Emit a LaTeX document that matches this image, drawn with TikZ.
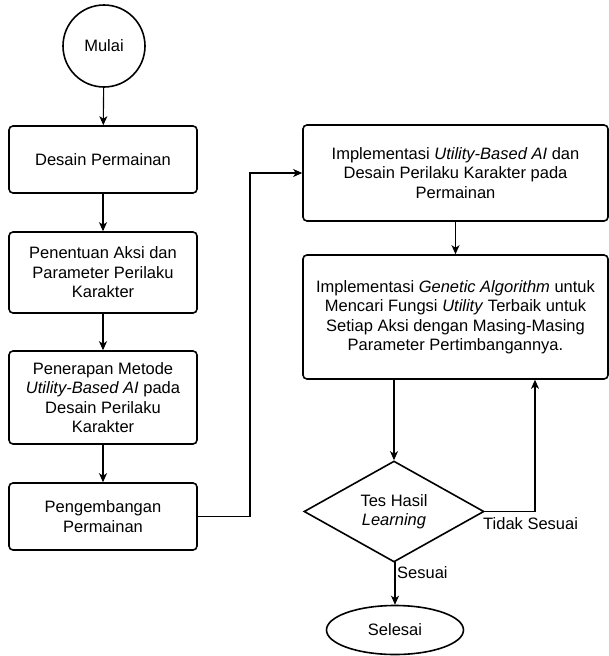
\documentclass[tikz,border=0pt]{standalone}
\usepackage{fontspec}
\setmainfont{Liberation Sans}
\usetikzlibrary{shapes.geometric,arrows.meta}
\begin{document}
\begin{tikzpicture}[x=1pt,y=-1pt,
  font=\fontsize{16.5}{19.5}\selectfont,
  box/.style={draw,line width=1.6pt,rounded corners=4pt,align=center,inner sep=2pt},
  lbox/.style={box,minimum width=188pt},
  rbox/.style={box,minimum width=305pt},
  conn/.style={line width=1.1pt,-{Stealth[length=9pt,width=8pt,inset=2.5pt]}},
  lbl/.style={inner sep=1pt}]
\useasboundingbox (0,0) rectangle (609,656);
\node[draw,circle,line width=1.6pt,minimum size=82pt,inner sep=0pt] (mulai) at (104,46) {Mulai};
\node[lbox,minimum height=67pt] (b1) at (103,159.5) {Desain Permainan};
\node[lbox,minimum height=81pt] (b2) at (103,272.5) {Penentuan Aksi dan\\Parameter Perilaku\\Karakter};
\node[lbox,minimum height=93pt] (b3) at (103,397.5) {Penerapan Metode\\\textit{Utility-Based AI} pada\\Desain Perilaku\\Karakter};
\node[lbox,minimum height=67pt] (b4) at (103,516.5) {Pengembangan\\Permainan};
\node[rbox,minimum height=96pt] (b5) at (455.5,173) {Implementasi \textit{Utility-Based AI} dan\\Desain Perilaku Karakter pada\\Permainan};
\node[rbox,minimum height=124pt] (b6) at (455.5,317) {Implementasi \textit{Genetic Algorithm} untuk\\Mencari Fungsi \textit{Utility} Terbaik untuk\\Setiap Aksi dengan Masing-Masing\\Parameter Pertimbangannya.};
\node[draw,diamond,line width=1.6pt,minimum width=180pt,minimum height=101pt,inner sep=0pt,align=center,aspect=1.78] (d) at (394,511.5) {Tes Hasil\\\textit{Learning}};
\node[draw,ellipse,line width=1.6pt,minimum width=137pt,minimum height=49pt,inner sep=0pt] (sel) at (395,630) {Selesai};
\coordinate (j1) at (250,516.5);
\coordinate (j2) at (535,511.5);
\draw[conn] (mulai) -- (b1);
\draw[conn] (b1) -- (b2);
\draw[conn] (b2) -- (b3);
\draw[conn] (b3) -- (b4);
\draw[conn] (b4.east) -- (j1) |- (b5.west);
\draw[conn] (b5) -- (b6);
\draw[conn] (d.north |- b6.south) -- (d.north);
\draw[conn] (d.east) -- (j2) -- (j2 |- b6.south);
\draw[conn] (d.south) -- (sel.north |- d.south) -- (sel.north);
\node[lbl,anchor=north west] (t1) at (482,516) {Tidak Sesuai};
\node[lbl,anchor=west] (t2) at (396,573) {Sesuai};
\end{tikzpicture}
\end{document}
